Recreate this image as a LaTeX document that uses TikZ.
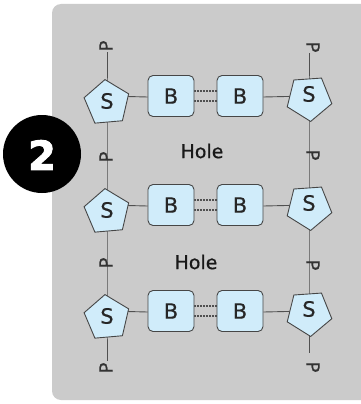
\documentclass[tikz,border=0pt]{standalone}
\usepackage{fontspec}
\setmainfont{DejaVu Sans}
\newfontfamily\markerfont[FakeBold=2.5]{DejaVu Sans Bold}
\newfontfamily\labelfont[FakeBold=0.6]{DejaVu Sans}
\usetikzlibrary{shapes.geometric}
\pgfdeclarelayer{panel}
\pgfdeclarelayer{wires}
\pgfsetlayers{panel,wires,main}
\definecolor{panelgray}{RGB}{203,203,203}
\definecolor{molblue}{RGB}{208,236,250}
\definecolor{edgegray}{RGB}{70,70,70}
\definecolor{wiregray}{RGB}{80,80,80}
\begin{document}
\begin{tikzpicture}[x=1pt,y=-1pt,
  sugar/.style={regular polygon, regular polygon sides=5, minimum size=47pt,
    inner sep=0pt, draw=edgegray, fill=molblue, line width=0.9pt},
  base/.style={draw=edgegray, fill=molblue, rounded corners=5pt,
    minimum width=46pt, minimum height=41pt, inner sep=0pt, line width=0.9pt,
    font=\labelfont\fontsize{21}{21}\selectfont, text=black!85},
  letter/.style={inner sep=0pt, font=\labelfont\fontsize{21}{21}\selectfont, text=black!85},
  phos/.style={inner sep=0pt, font=\labelfont\fontsize{18}{18}\selectfont, text=black!80},
  wire/.style={draw=wiregray, line width=0.9pt},
  hbond/.style={draw=wiregray, line width=1.2pt, dash pattern=on 2pt off 1pt},
  holetext/.style={font=\labelfont\fontsize{19}{19}\selectfont, text=black!90}]
  \useasboundingbox (0,0) rectangle (360,404);
  \clip (0,0) rectangle (360,404);

  % grey panel
  \begin{pgfonlayer}{panel}
    \fill[panelgray, rounded corners=9pt] (52,4) rectangle (375,400);
  \end{pgfonlayer}

  % strands: sugars and bases of the three rungs
  \foreach \r/\y in {1/96,2/205,3/311}{
    \node[sugar, regular polygon rotate=5] (sl\r) at (107,\y+7) {};
    \node[letter] (tl\r) at ([yshift=2pt]sl\r.center) {S};
    \node[sugar, regular polygon rotate=184] (sr\r) at (309,\y+2) {};
    \node[letter] (tr\r) at ([yshift=4pt]sr\r.center) {S};
    \node[base] (bl\r) at (171,\y) {B};
    \node[base] (br\r) at (240,\y) {B};
  }

  % phosphate groups
  \node[phos, rotate=90] (pl0) at (106,46) {P};
  \node[phos, rotate=90] (pl1) at (106,157) {P};
  \node[phos, rotate=90] (pl2) at (106,263) {P};
  \node[phos, rotate=90] (pl3) at (106,368) {P};
  \node[phos, rotate=-90] (pr0) at (313,47) {P};
  \node[phos, rotate=-90] (pr1) at (313,155) {P};
  \node[phos, rotate=-90] (pr2) at (313,265) {P};
  \node[phos, rotate=-90] (pr3) at (313,367) {P};

  \coordinate (lend0) at (108,52);
  \coordinate (rend0) at (310,53);
  \coordinate (lend3) at (108,361);
  \coordinate (rend3) at (310,353);

  % backbones and rungs
  \begin{pgfonlayer}{wires}
    \draw[wire] (lend0) -- (sl1.center |- lend0) -- (sl1.center)
      -- (sl1.center |- pl1.center) -- (sl2.center)
      -- (sl2.center |- pl2.center) -- (sl3.center) -- (sl3.center |- lend3);
    \draw[wire] (rend0) -- (sr1.center |- rend0) -- (sr1.center)
      -- (sr1.center |- pr1.center) -- (sr2.center)
      -- (sr2.center |- pr2.center) -- (sr3.center) -- (sr3.center |- rend3);
    \foreach \r in {1,2,3}{
      \draw[wire] (sl\r.center |- bl\r.west) -- ([yshift=-1pt]bl\r.west);
      \draw[wire] ([yshift=-1pt]br\r.east) -- (sr\r.center |- br\r.east);
      \draw[hbond] ([yshift=5pt]bl\r.east) -- ([yshift=5pt]br\r.west);
      \draw[hbond] ([yshift=-5pt]bl\r.east) -- ([yshift=-5pt]br\r.west);
    }
  \end{pgfonlayer}

  % gaps between rungs
  \node[holetext] (hole1) at (202,151) {Hole};
  \node[holetext] (hole2) at (196,262) {Hole};

  % step marker
  \fill[black] (42,154) circle (39pt);
  \node[inner sep=0pt, text=white, font=\markerfont\fontsize{40}{40}\selectfont] (step2) at (42,155) {2};
\end{tikzpicture}
\end{document}
